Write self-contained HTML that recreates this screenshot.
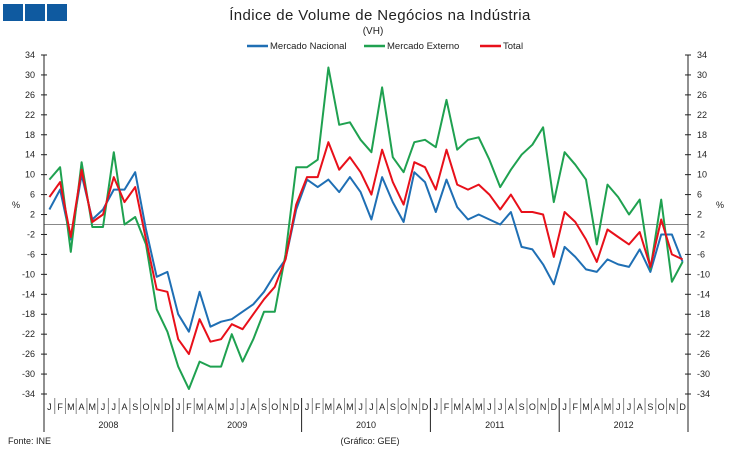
<!DOCTYPE html>
<html><head><meta charset="utf-8"><style>
body{margin:0;background:#fff;width:735px;height:452px;overflow:hidden}
svg{font-family:"Liberation Sans",Arial,sans-serif}
</style></head><body>
<svg id="s" width="735" height="452" xmlns="http://www.w3.org/2000/svg">
<rect x="3" y="4" width="20" height="17" fill="#0f5aa0"/>
<rect x="25" y="4" width="20" height="17" fill="#0f5aa0"/>
<rect x="47" y="4" width="20" height="17" fill="#0f5aa0"/>
<text x="380" y="20" font-size="15" letter-spacing="0.4" text-anchor="middle" fill="#222">Índice de Volume de Negócios na Indústria</text>
<text x="373" y="34" font-size="10" text-anchor="middle" fill="#222">(VH)</text>
<line x1="247" y1="46" x2="268" y2="46" stroke="#1f6fb4" stroke-width="2.5"/>
<text x="270" y="49" font-size="9.5" fill="#222">Mercado Nacional</text>
<line x1="364" y1="46" x2="385" y2="46" stroke="#1fa150" stroke-width="2.5"/>
<text x="387" y="49" font-size="9.5" fill="#222">Mercado Externo</text>
<line x1="480" y1="46" x2="501" y2="46" stroke="#e8101a" stroke-width="2.5"/>
<text x="503" y="49" font-size="9.5" fill="#222">Total</text>
<text x="12" y="208" font-size="9" fill="#222">%</text>
<text x="716" y="208" font-size="9" fill="#222">%</text>
<text x="8" y="444" font-size="9" fill="#222">Fonte: INE</text>
<text x="370" y="444" font-size="9" text-anchor="middle" fill="#222">(Gráfico: GEE)</text>
<g id="g"></g>
</svg>
<script>
var L=44,R=688,T=55,B=394,g=document.getElementById('g'),h='';
function y(v){return T+(34-v)*(B-T)/68}
var w=(R-L)/60;
h+='<line x1="'+L+'" y1="'+y(0)+'" x2="'+R+'" y2="'+y(0)+'" stroke="#888" stroke-width="1"/>';
h+='<line x1="'+L+'" y1="'+T+'" x2="'+L+'" y2="432" stroke="#222"/>';
h+='<line x1="'+R+'" y1="'+T+'" x2="'+R+'" y2="432" stroke="#222"/>';
for(var v=34;v>=-34;v-=4){var yy=y(v);
h+='<line x1="'+(L-3)+'" y1="'+yy+'" x2="'+(L+3)+'" y2="'+yy+'" stroke="#222"/>';
h+='<line x1="'+(R-3)+'" y1="'+yy+'" x2="'+(R+3)+'" y2="'+yy+'" stroke="#222"/>';
h+='<text x="'+(L-9)+'" y="'+(yy+3)+'" font-size="9" text-anchor="end" fill="#222">'+v+'</text>';
h+='<text x="'+(R+9)+'" y="'+(yy+3)+'" font-size="9" fill="#222">'+v+'</text>';}
var M="JFMAMJJASOND";
for(var i=0;i<60;i++){var x=L+w*(i+0.5);
h+='<text x="'+x+'" y="410" font-size="9" text-anchor="middle" fill="#222">'+M[i%12]+'</text>';
if(i>0){var yr=i%12==0;h+='<line x1="'+(L+w*i)+'" y1="'+(B+4)+'" x2="'+(L+w*i)+'" y2="'+(yr?432:414)+'" stroke="'+(yr?'#222':'#888')+'"/>';}}
for(var k=0;k<5;k++)h+='<text x="'+(L+w*(12*k+6))+'" y="428" font-size="9" text-anchor="middle" fill="#222">'+(2008+k)+'</text>';
var nac=[3,7,-3,10,1,3,7,7,10.5,-1,-10.5,-9.5,-18,-21.5,-13.5,-20.5,-19.5,-19,-17.5,-16,-13.5,-10,-7,3,9,7.5,9,6.5,9.5,6.5,1,9.5,4.5,0.5,10.5,8.5,2.5,9,3.5,1,2,1,0,2.5,-4.5,-5,-8,-12,-4.5,-6.5,-9,-9.5,-7,-8,-8.5,-5,-9.5,-2,-2,-7.5];
var ext=[9,11.5,-5.5,12.5,-0.5,-0.5,14.5,0,1.5,-4,-17,-21.5,-28.5,-33,-27.5,-28.5,-28.5,-22,-27.5,-23,-17.5,-17.5,-6,11.5,11.5,13,31.5,20,20.5,17,14.5,27.5,13.5,10.5,16.5,17,15.5,25,15,17,17.5,13,7.5,11,14,16,19.5,4.5,14.5,12,9,-4,8,5.5,2,5,-9,5,-11.5,-7.5];
var tot=[5.5,8.5,-2.5,11,0.5,2,9.5,4.5,7.5,-3,-13,-13.5,-23,-26,-19,-23.5,-23,-20,-21,-18,-15,-12.5,-7,4,9.5,9.5,16.5,11,13.5,10.5,6,15,8.5,4,12.5,11.5,7,15,8,7,8,6,3,6,2.5,2.5,2,-6.5,2.5,0.5,-3,-7.5,-1,-2.5,-4,-1.5,-8.5,1,-6,-7];
function pl(d,c){var p=d.map(function(v,i){return (L+w*(i+0.5)).toFixed(1)+','+y(v).toFixed(1)}).join(' ');
return '<polyline points="'+p+'" fill="none" stroke="'+c+'" stroke-width="2" stroke-linejoin="round"/>';}
h+=pl(nac,'#1f6fb4')+pl(ext,'#1fa150')+pl(tot,'#e8101a');
g.innerHTML=h;
</script>
</body></html>
